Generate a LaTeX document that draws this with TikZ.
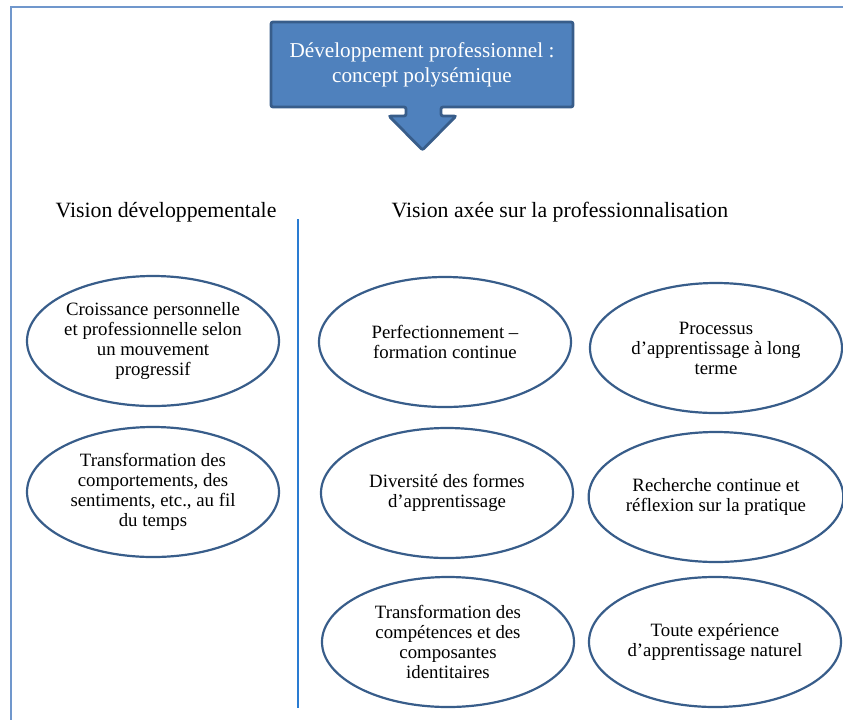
\documentclass[tikz,border=0pt]{standalone}
\usepackage{fontspec}
\setmainfont{Liberation Serif}
\usetikzlibrary{shapes.geometric}

\definecolor{calloutfill}{HTML}{4F81BD}
\definecolor{calloutline}{HTML}{385D8A}
\definecolor{framecol}{HTML}{7097CC}
\definecolor{splitcol}{HTML}{2A7CD2}

\begin{document}
\begin{tikzpicture}[x=0.5pt,y=-0.5pt,
  bubble/.style={ellipse,draw=calloutline,line width=1.1pt,inner sep=0pt,
    minimum width=126pt,minimum height=65pt,align=center,
    font=\fontsize{9.4}{10}\selectfont},
  heading/.style={font=\fontsize{10.9}{13}\selectfont}]
\useasboundingbox (0,0) rectangle (843,720);
% frame
\draw[framecol,line width=1.4pt] (843,7) -- (11,7) -- (11,720);
% title callout
\draw[fill=calloutfill,draw=calloutline,line width=1.4pt,rounded corners=1pt]
  (271,22) -- (573,22) -- (573,107) -- (441,107) -- (441,116) -- (456,116)
  -- (422.5,150) -- (389,116) -- (406,116) -- (406,107) -- (271,107) -- cycle;
\node[text=white,align=center,font=\fontsize{10.6}{12.5}\selectfont] (title) at (422,65)
  {Développement professionnel :\\ concept polysémique};
% headings
\node[heading] (devhead) at (166,212) {Vision développementale};
\node[heading] (prohead) at (560,212) {Vision axée sur la professionnalisation};
% divider
\draw[splitcol,line width=1pt] (298,219) -- (298,708);
% left column
\node[bubble] (growth) at (153,341) {Croissance personnelle\\ et professionnelle selon\\ un mouvement\\ progressif};
\node[bubble] (change) at (153,492) {Transformation des\\ comportements, des\\ sentiments, etc., au fil\\ du temps};
% right column
\node[bubble] (training) at (445,342) {Perfectionnement --\\ formation continue};
\node[bubble] (process) at (716,348) {Processus\\ d'apprentissage à long\\ terme};
\node[bubble] (forms) at (447,493) {Diversité des formes\\ d'apprentissage};
\node[bubble] (research) at (716,497) {Recherche continue et\\ réflexion sur la pratique};
\node[bubble] (skills) at (448,642) {Transformation des\\ compétences et des\\ composantes\\ identitaires};
\node[bubble] (natural) at (715,642) {Toute expérience\\ d'apprentissage naturel};
\end{tikzpicture}
\end{document}
